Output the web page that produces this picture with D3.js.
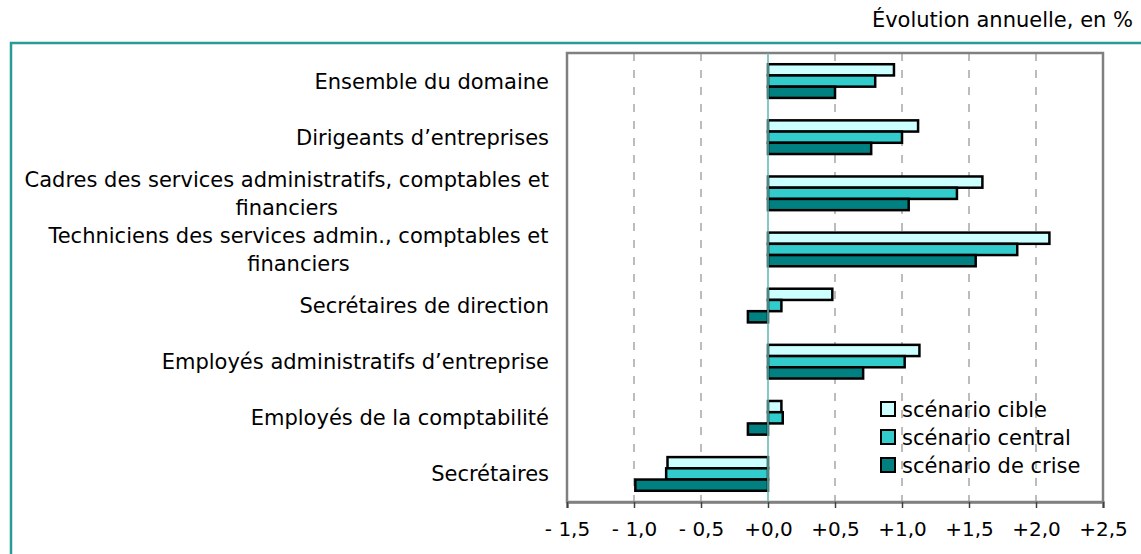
<html><head>
<title>Evolution annuelle</title>
<script src="https://d3js.org/d3.v7.min.js"></script>
<style>
  body { margin: 0; background: white; }
  text { font-family: "DejaVu Sans", Verdana, sans-serif; fill: #000; }
</style>
</head>
<body>
<svg id="chart" width="1141" height="554"></svg>

<script>
// data
let categories = [
  ["Ensemble du domaine"],
  ["Dirigeants d’entreprises"],
  ["Cadres des services administratifs, comptables et", "financiers"],
  ["Techniciens des services admin., comptables et", "financiers"],
  ["Secrétaires de direction"],
  ["Employés administratifs d’entreprise"],
  ["Employés de la comptabilité"],
  ["Secrétaires"]
];
let seriesNames = ["scénario cible", "scénario central", "scénario de crise"];
let cible   = [0.94, 1.12, 1.60, 2.10, 0.48, 1.13, 0.10, -0.75];
let central = [0.80, 1.00, 1.41, 1.86, 0.10, 1.02, 0.11, -0.76];
let crise   = [0.50, 0.77, 1.05, 1.55, -0.15, 0.71, -0.15, -0.99];
let tickValues = [-1.5, -1.0, -0.5, 0, 0.5, 1.0, 1.5, 2.0, 2.5];
let tickLabels = ["- 1,5", "- 1,0", "- 0,5", "+0,0", "+0,5", "+1,0", "+1,5", "+2,0", "+2,5"];
let colors = ["#ccffff", "#33cccc", "#008080"];

let svg = d3.select("#chart");

// title top right
svg.append("text")
  .attr("x", 1133).attr("y", 27)
  .attr("text-anchor", "end")
  .style("font-size", "21px")
  .text("Évolution annuelle, en %");

// teal frame around the chart (goes off the page on right / bottom)
svg.append("path")
  .attr("d", "M11,560 L11,43 L1145,43")
  .attr("fill", "none")
  .attr("stroke", "#2a9a95")
  .attr("stroke-width", 2.5);

// plot area box (window.top is taken, so pTop etc)
let pLeft = 567, pRight = 1103, pTop = 53, pBottom = 502;

let x = d3.scaleLinear().domain([-1.5, 2.5]).range([pLeft, pRight]);
let y = d3.scaleBand().domain(d3.range(categories.length)).range([pTop, pBottom])
  .paddingInner(0.4).paddingOuter(0.2);
let ySub = d3.scaleBand().domain(d3.range(3)).range([0, y.bandwidth()]);

// dashed gridlines
svg.append("g").selectAll("line")
  .data(tickValues.filter(d => d != 0 && d != -1.5 && d != 2.5))
  .join("line")
  .attr("x1", d => x(d)).attr("x2", d => x(d))
  .attr("y1", pTop).attr("y2", pBottom)
  .attr("stroke", "#a6a6a6")
  .attr("stroke-width", 1.5)
  .attr("stroke-dasharray", "8,9");

// plot area border
svg.append("rect")
  .attr("x", pLeft).attr("y", pTop)
  .attr("width", pRight - pLeft).attr("height", pBottom - pTop)
  .attr("fill", "none")
  .attr("stroke", "#808080")
  .attr("stroke-width", 2.5);

// bars
let series = [cible, central, crise];
series.forEach((vals, s) => {
  svg.append("g").selectAll("rect")
    .data(vals)
    .join("rect")
    .attr("x", d => x(Math.min(0, d)))
    .attr("y", (d, i) => y(i) + ySub(s))
    .attr("width", d => Math.abs(x(d) - x(0)))
    .attr("height", ySub.bandwidth())
    .attr("fill", colors[s])
    .attr("stroke", "#000")
    .attr("stroke-width", 2.5);
});

// zero line
svg.append("line")
  .attr("x1", x(0)).attr("x2", x(0))
  .attr("y1", pTop).attr("y2", pBottom)
  .attr("stroke", "#5fb5b0")
  .attr("stroke-width", 1.5);

// bottom axis
let axis = d3.axisBottom(x)
  .tickValues(tickValues)
  .tickFormat((d, i) => tickLabels[i])
  .tickSize(6)
  .tickPadding(14);
let gx = svg.append("g")
  .attr("transform", "translate(0," + pBottom + ")")
  .call(axis);
gx.select(".domain").attr("stroke", "#808080").attr("stroke-width", 2.5);
gx.selectAll(".tick line").attr("stroke", "#404040").attr("stroke-width", 1.5);
gx.selectAll(".tick text")
  .style("font-family", "DejaVu Sans")
  .style("font-size", "20px")
  .attr("fill", "#000");

// category labels, multi line ones are centered on the widest line
categories.forEach((lines, i) => {
  let cy = y(i) + y.bandwidth() / 2;
  let t = svg.append("text")
    .attr("text-anchor", "middle")
    .style("font-size", "21px");
  lines.forEach((ln, j) => {
    t.append("tspan")
      .attr("x", 0)
      .attr("y", cy + (j - (lines.length - 1) / 2) * 28)
      .attr("dy", "0.36em")
      .text(ln);
  });
  let w = t.node().getBBox().width;
  t.attr("transform", "translate(" + (549 - w / 2) + ",0)");
});

// legend
let legend = svg.append("g").attr("transform", "translate(881,402)");
seriesNames.forEach((name, i) => {
  legend.append("rect")
    .attr("x", 0).attr("y", i * 28)
    .attr("width", 14).attr("height", 14)
    .attr("fill", colors[i])
    .attr("stroke", "#000")
    .attr("stroke-width", 2);
  legend.append("text")
    .attr("x", 21).attr("y", i * 28 + 7)
    .attr("dy", "0.36em")
    .style("font-size", "21px")
    .text(name);
});
</script>
</body>
</html>
